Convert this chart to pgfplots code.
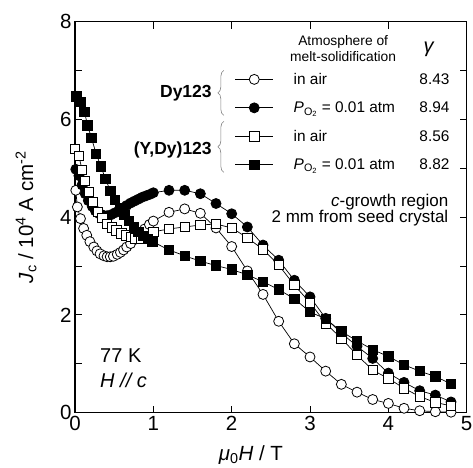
\documentclass[border=0pt]{standalone}
\usepackage{fontspec}
\setmainfont{Liberation Sans}
\usepackage{pgfplots}
\pgfplotsset{compat=1.18}
\usetikzlibrary{decorations.pathreplacing}

% Jc(H) at 77 K, H // c, c-growth region 2 mm from seed crystal
\pgfplotstableread{
x y
0.01 4.55
0.03 4.21
0.07 3.97
0.11 3.77
0.15 3.63
0.19 3.50
0.24 3.39
0.28 3.31
0.32 3.25
0.37 3.21
0.41 3.19
0.45 3.19
0.49 3.20
0.54 3.24
0.58 3.28
0.62 3.33
0.66 3.39
0.71 3.46
0.77 3.55
0.83 3.66
0.89 3.76
0.95 3.85
1.00 3.92
1.20 4.10
1.40 4.17
1.60 4.08
1.80 3.78
2.00 3.40
2.20 2.90
2.40 2.42
2.60 1.87
2.80 1.41
3.00 1.14
3.20 0.85
3.40 0.58
3.60 0.42
3.80 0.27
4.00 0.19
4.20 0.09
4.40 0.04
4.60 0.02
4.80 0.01
}\dyair

\pgfplotstableread{
x y
0.01 4.98
0.05 4.85
0.09 4.66
0.13 4.48
0.17 4.34
0.22 4.22
0.26 4.13
0.31 4.07
0.36 4.04
0.41 4.03
0.46 4.05
0.51 4.09
0.56 4.14
0.61 4.19
0.66 4.24
0.71 4.29
0.76 4.33
0.81 4.37
0.86 4.41
0.91 4.44
0.96 4.47
1.00 4.50
1.20 4.55
1.40 4.55
1.60 4.48
1.80 4.28
2.00 4.07
2.20 3.80
2.40 3.43
2.60 3.12
2.80 2.71
3.00 2.37
3.20 1.93
3.40 1.63
3.60 1.36
3.80 1.11
4.00 0.81
4.20 0.62
4.40 0.45
4.60 0.36
4.80 0.22
}\dyox

\pgfplotstableread{
x y
0.00 5.40
0.05 5.25
0.09 4.97
0.13 4.74
0.18 4.52
0.23 4.31
0.29 4.11
0.35 3.98
0.41 3.86
0.47 3.79
0.53 3.73
0.59 3.67
0.65 3.63
0.71 3.60
0.77 3.57
0.84 3.57
0.92 3.62
1.00 3.70
1.20 3.76
1.40 3.80
1.60 3.84
1.80 3.86
2.00 3.78
2.20 3.58
2.40 3.34
2.60 3.02
2.80 2.61
3.00 2.25
3.20 1.83
3.40 1.52
3.60 1.18
3.80 0.87
4.00 0.70
4.20 0.50
4.40 0.33
4.60 0.21
4.80 0.14
}\ydyair

\pgfplotstableread{
x y
0.02 6.47
0.07 6.36
0.12 6.16
0.16 5.88
0.21 5.62
0.27 5.30
0.33 5.04
0.39 4.78
0.45 4.54
0.51 4.35
0.57 4.19
0.63 4.05
0.69 3.92
0.75 3.80
0.81 3.70
0.87 3.62
0.93 3.55
0.99 3.50
1.20 3.33
1.40 3.21
1.60 3.10
1.80 3.01
2.00 2.93
2.20 2.82
2.40 2.68
2.60 2.52
2.80 2.33
3.00 2.06
3.20 1.92
3.40 1.66
3.60 1.47
3.80 1.29
4.00 1.15
4.20 0.98
4.40 0.85
4.60 0.74
4.80 0.59
}\ydyox

\begin{document}
\begin{tikzpicture}
\begin{axis}[
  scale only axis, width=391.7pt, height=391pt,
  xmin=0, xmax=5, ymin=0, ymax=8,
  xtick={0,1,2,3,4,5}, ytick={0,2,4,6,8},
  minor ytick={1,3,5,7},
  tick align=inside, major tick length=7pt, minor tick length=7pt,
  tick style={black, line width=0.9pt},
  axis line style={line width=1.1pt},
  /pgf/number format/assume math mode=true,
  every tick label/.append style={font=\fontsize{20.5}{24}\selectfont},
  clip=false,
  xlabel={\textit{μ}\textsubscript{0}\textit{H} / T},
  ylabel={\textit{J}\textsubscript{c} / 10\textsuperscript{4} A cm\textsuperscript{-2}},
  label style={font=\fontsize{20.5}{24}\selectfont, inner sep=0pt},
  xlabel style={at={(axis description cs:0.449,-0.108)}, anchor=center},
  ylabel style={at={(axis description cs:-0.125,0.5)}, anchor=center},
  legend image code/.code={\draw[mark repeat=2,mark phase=2,#1] plot coordinates {(0pt,0pt) (18.85pt,0pt) (37.7pt,0pt)};},
  legend style={
    at={(axis cs:2.043,6.99)}, anchor=north west,
    draw=none, fill=none, inner sep=0pt, outer sep=0pt,
    font=\fontsize{15.4}{18}\selectfont,
    row sep=12pt,
    /tikz/every odd column/.append style={column sep=18.3pt},
  },
  legend cell align=left,
  every axis plot/.append style={black, line width=0.7pt},
]
\addplot[mark=*, mark size=5pt, mark options={fill=white, line width=0.8pt}] table {\dyair};
\addlegendentry{\makebox[155.7pt]{in air\hfill 8.43}}
\addplot[mark=*, mark size=5pt, mark options={fill=black, line width=0.8pt}] table {\dyox};
\addlegendentry{\makebox[155.7pt]{\textit{P}\textsubscript{O\textsubscript{2}} = 0.01 atm\hfill 8.94}}
\addplot[mark=square*, mark size=4.7pt, mark options={fill=white, line width=0.8pt}] table {\ydyair};
\addlegendentry{\makebox[155.7pt]{in air\hfill 8.56}}
\addplot[mark=square*, mark size=4.7pt, mark options={fill=black, line width=0.8pt}] table {\ydyox};
\addlegendentry{\makebox[155.7pt]{\textit{P}\textsubscript{O\textsubscript{2}} = 0.01 atm\hfill 8.82}}

% legend header
\node[anchor=base, font=\fontsize{13.8}{16.5}\selectfont] at (axis cs:3.423,7.52) {Atmosphere of};
\node[anchor=base, font=\fontsize{13.8}{16.5}\selectfont] at (axis cs:3.423,7.18) {melt-solidification};
\node[font=\fontsize{20}{20}\selectfont] at (axis cs:4.521,7.44) {\textit{γ}};

% sample groups
\draw[gray, line width=0.6pt, decorate, decoration={brace, amplitude=6pt}]
  (axis cs:1.90,6.084) -- (axis cs:1.90,7.004);
\draw[gray, line width=0.6pt, decorate, decoration={brace, amplitude=6pt}]
  (axis cs:1.90,4.918) -- (axis cs:1.90,5.961);
\node[anchor=east, font=\bfseries\fontsize{17.5}{20}\selectfont] at (axis cs:1.79,6.536) {Dy123};
\node[anchor=east, font=\bfseries\fontsize{17.5}{20}\selectfont] at (axis cs:1.79,5.372) {(Y,Dy)123};

\node[anchor=base east, font=\fontsize{17}{20}\selectfont] at (axis cs:4.81,4.217) {\textit{c}-growth region};
\node[anchor=base east, font=\fontsize{17}{20}\selectfont] at (axis cs:4.81,3.892) {2 mm from seed crystal};
\node[anchor=base west, font=\fontsize{20}{24}\selectfont] at (axis cs:0.277,1.02) {77 K};
\node[anchor=base west, font=\fontsize{20}{24}\selectfont] at (axis cs:0.277,0.52) {\textit{H // c}};
\end{axis}
% page frame: 75pt of room at the left, 55.3pt below, 6.3pt right, 21.7pt above the axis box
\pgfresetboundingbox
\path[use as bounding box] ([shift={(-75pt,-55.3pt)}]current axis.south west) rectangle ([shift={(6.3pt,21.7pt)}]current axis.north east);
\end{tikzpicture}
\end{document}
